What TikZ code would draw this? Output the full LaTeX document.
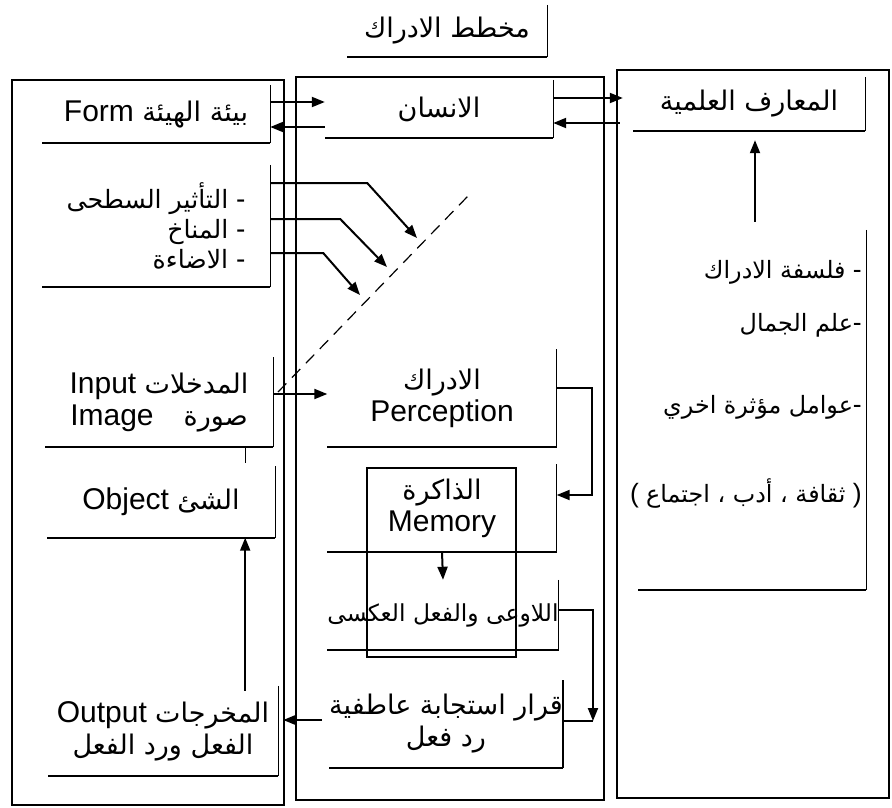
\documentclass[tikz,border=0pt]{standalone}
\usepackage{fontspec}
\setmainfont{Liberation Sans}
\newfontfamily\arabicfont[Script=Arabic,Scale=0.9]{DejaVu Sans}
\TeXXeTstate=1
\usetikzlibrary{arrows.meta, positioning, calc}
\newcommand{\artxt}[1]{{\arabicfont\beginR #1\endR}}

\begin{document}
\begin{tikzpicture}[x=1pt, y=-1pt,
  lbox/.style={inner sep=0pt, align=center, font=\fontsize{30}{32}\selectfont},
  rim/.style={line width=1.1pt},
  base/.style={line width=2.4pt},
  panel/.style={line width=1.3pt},
  conn/.style={line width=2pt, -{Triangle[length=13pt,width=10pt]}},
  item/.style={anchor=east, inner sep=0pt, font=\fontsize{26.5}{28}\selectfont}]
\useasboundingbox (0,0) rectangle (892,808);

\draw[panel] (12,80) rectangle (284,805);
\draw[panel] (296,77) rectangle (604,800);
\draw[panel] (617,70) rectangle (889,798);

\node[lbox, minimum width=200, minimum height=52] (title) at (447,31) {\artxt{مخطط الادراك}};

\node[lbox, minimum width=228, minimum height=58] (form) at (156,114) {Form \artxt{بيئة الهيئة}};
\node[lbox, minimum width=228, minimum height=122, align=right, font=\fontsize{28}{30}\selectfont] (env) at (156,226)
  {\artxt{التأثير السطحى} -\\ \artxt{المناخ} -\\ \artxt{الاضاءة} -};
\node[lbox, minimum width=228, minimum height=89] (input) at (159,402) {Input \artxt{المدخلات}\\ Image\quad\artxt{صورة}};
\node[lbox, minimum width=228, minimum height=71] (object) at (161,502) {Object \artxt{الشئ}};
\node[lbox, minimum width=230, minimum height=90] (output) at (163,731) {Output \artxt{المخرجات}\\ \artxt{الفعل ورد الفعل}};

\node[lbox, minimum width=228, minimum height=58] (human) at (439,109) {\artxt{الانسان}};
\node[lbox, minimum width=229, minimum height=97] (perc) at (442,398) {\artxt{الادراك}\\ Perception};
\node[lbox, minimum width=229, minimum height=87] (memL) at (442,508) {\artxt{الذاكرة}\\ Memory};
\node[lbox, minimum width=227, minimum height=70, font=\fontsize{26}{28}\selectfont] (unc) at (443,615) {\artxt{اللاوعى والفعل العكسى}};
\node[lbox, minimum width=228, minimum height=87] (dec) at (446,724) {\artxt{قرار استجابة عاطفية}\\ \artxt{رد فعل}};
\draw[rim] (367,468) rectangle (516,657);

\node[lbox, minimum width=232, minimum height=54] (know) at (749,104) {\artxt{المعارف العلمية}};
\node[lbox, minimum width=228, minimum height=360] (fact) at (752,410) {};
\node[item] (f1) at (862,272) {\artxt{فلسفة الادراك} -};
\node[item] (f2) at (862,325) {\artxt{علم الجمال}-};
\node[item] (f3) at (862,407) {\artxt{عوامل مؤثرة اخري}-};
\node[item] (f4) at (862,493) {( \artxt{ثقافة ، أدب ، اجتماع} )};

\foreach \b in {title,form,env,input,object,output,human,perc,memL,unc,dec,know,fact}{
  \draw[rim] (\b.north east) -- (\b.south east);
  \draw[base] (\b.south east) -- (\b.south west);
}

\coordinate (dashbot) at (278,392);
\coordinate (dashtop) at (468,196);
\coordinate (hit1) at (417,238);
\coordinate (hit2) at (387,267);
\coordinate (hit3) at (360,295);
\coordinate (decin) at ([xshift=30pt,yshift=3pt]dec.east);

\draw[conn] ([yshift=12pt]form.east) -- ([yshift=12pt]form.east -| human.west);
\draw[conn] ([yshift=-13pt]form.east -| human.west) -- ([yshift=-13pt]form.east);
\draw[conn, shorten >=10pt] ([yshift=11pt]human.east) -- ([yshift=11pt]human.east -| know.west);
\draw[conn, shorten <=13pt] ([yshift=-14pt]human.east -| know.west) -- ([yshift=-14pt]human.east);
\draw[conn] ([yshift=43pt]env.east) -- ++(97,0) -- (hit1);
\draw[conn] ([yshift=7pt]env.east) -- ++(70,0) -- (hit2);
\draw[conn] ([yshift=-27pt]env.east) -- ++(53,0) -- (hit3);
\draw[dashed, line width=1.2pt, dash pattern=on 12pt off 8pt] (dashbot) -- (dashtop);
\draw[conn] ([yshift=8pt]input.east) -- ([yshift=8pt]input.east -| perc.west);
\draw[rim] ([xshift=-28pt]input.south east) -- ++(0,16);
\draw[conn] ([yshift=10pt]perc.east) -- ++(35,0) |- ([yshift=13pt]memL.east);
\draw[conn] (memL.south) -- (unc.north);
\draw[conn] ([yshift=5pt]unc.east) -| (decin);
\draw[line width=2pt] (decin) -- ([yshift=3pt]dec.east);
\draw[conn, shorten >=5pt] ([yshift=4pt,xshift=-7pt]dec.west) -- ([yshift=4pt]dec.west -| output.east);
\draw[conn] ([xshift=-33pt,yshift=-5pt]output.north east) -- ([xshift=-30pt]object.south east);
\draw[conn] ([xshift=3pt,yshift=8pt]fact.north) -- ([xshift=6pt,yshift=-9pt]know.south);
\end{tikzpicture}
\end{document}
